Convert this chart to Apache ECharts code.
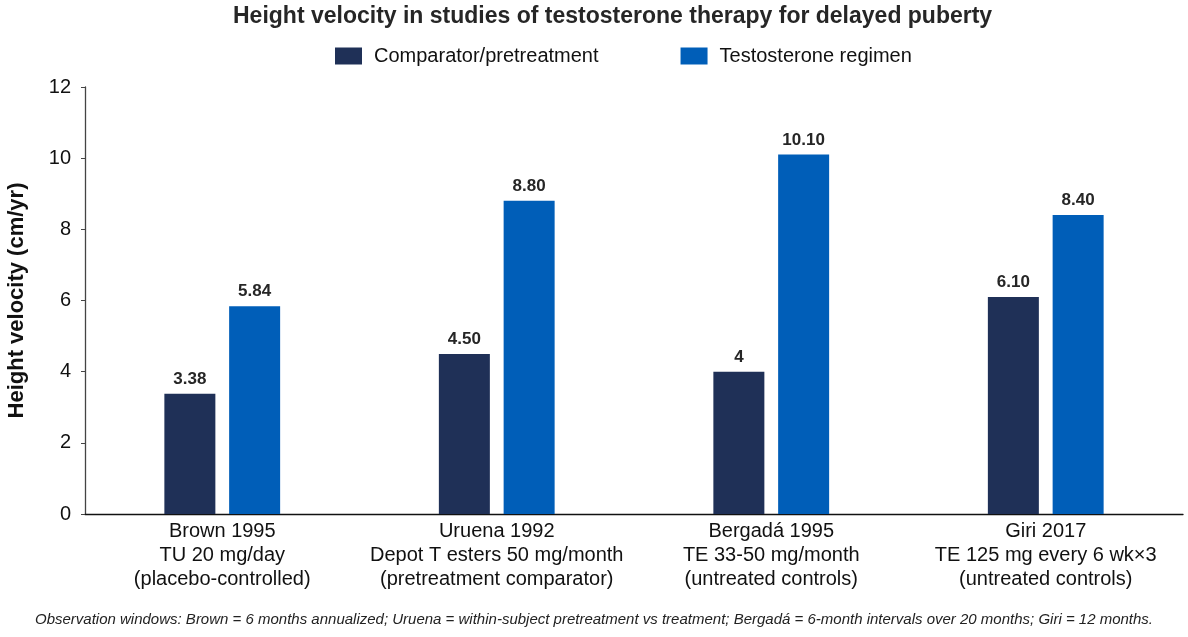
<!DOCTYPE html>
<html>
<head>
<meta charset="utf-8">
<script src="https://cdn.jsdelivr.net/npm/echarts@6/dist/echarts.min.js"></script>
<style>
  html, body { margin: 0; padding: 0; background: #fff; }
  #main { width: 1188px; height: 637px; }
</style>
</head>
<body>
<div id="main"></div>
<script>
var studies = [
    'Brown 1995\nTU 20 mg/day\n(placebo-controlled)',
    'Uruena 1992\nDepot T esters 50 mg/month\n(pretreatment comparator)',
    'Bergadá 1995\nTE 33-50 mg/month\n(untreated controls)',
    'Giri 2017\nTE 125 mg every 6 wk×3\n(untreated controls)'
];
var comparator = [3.38, 4.50, 4, 6.10];
var testosterone = [5.84, 8.80, 10.10, 8.40];
var comparatorLabels = ['3.38', '4.50', '4', '6.10'];
var testosteroneLabels = ['5.84', '8.80', '10.10', '8.40'];

var font = 'Liberation Sans, Arial, sans-serif';
var myChart = echarts.init(document.getElementById('main'));

function barLabel(texts) {
    return {
        show: true,
        position: 'top',
        distance: 6,
        fontFamily: font,
        fontSize: 17,
        fontWeight: 'bold',
        color: '#262626',
        formatter: function (p) { return texts[p.dataIndex]; }
    };
}

var option = {
    backgroundColor: '#fff',
    title: {
        text: 'Height velocity in studies of testosterone therapy for delayed puberty',
        left: 228,
        top: 0,
        textStyle: { fontFamily: font, fontSize: 23, fontWeight: 'bold', color: '#262626' }
    },
    legend: {
        top: 41,
        left: 330,
        icon: 'rect',
        itemWidth: 27,
        itemHeight: 17,
        itemGap: 82,
        textStyle: { fontFamily: font, fontSize: 20, color: '#111', padding: [0, 0, 0, 7] },
        data: ['Comparator/pretreatment', 'Testosterone regimen']
    },
    graphic: [{
        type: 'text',
        left: 'center',
        top: 612,
        style: {
            text: 'Observation windows: Brown = 6 months annualized; Uruena = within-subject pretreatment vs treatment; Bergadá = 6-month intervals over 20 months; Giri = 12 months.',
            font: 'italic 15px ' + font,
            fill: '#222'
        }
    }],
    grid: { left: 85, right: 5, top: 87, bottom: 123, outerBoundsMode: 'none', containLabel: false },
    xAxis: {
        type: 'category',
        data: studies,
        axisLine: { lineStyle: { color: '#111', width: 1.3 } },
        axisTick: { show: false },
        axisLabel: { fontFamily: font, fontSize: 20, color: '#111', lineHeight: 24, margin: 5, interval: 0 }
    },
    yAxis: {
        type: 'value',
        min: 0,
        max: 12,
        interval: 2,
        name: 'Height velocity (cm/yr)',
        nameLocation: 'middle',
        nameGap: 57,
        nameTextStyle: { fontFamily: font, fontSize: 22, fontWeight: 'bold', color: '#111' },
        axisLine: { show: true, lineStyle: { color: '#444', width: 1.3 } },
        axisTick: { show: true, length: 4, lineStyle: { color: '#444' } },
        splitLine: { show: false },
        axisLabel: { fontFamily: font, fontSize: 20, color: '#111', margin: 14 }
    },
    series: [
        {
            name: 'Comparator/pretreatment',
            type: 'bar',
            data: comparator,
            barWidth: 51,
            barGap: '27%',
            itemStyle: { color: '#1f3057' },
            label: barLabel(comparatorLabels)
        },
        {
            name: 'Testosterone regimen',
            type: 'bar',
            data: testosterone,
            barWidth: 51,
            itemStyle: { color: '#005eb8' },
            label: barLabel(testosteroneLabels)
        }
    ]
};
myChart.setOption(option);
</script>
</body>
</html>
